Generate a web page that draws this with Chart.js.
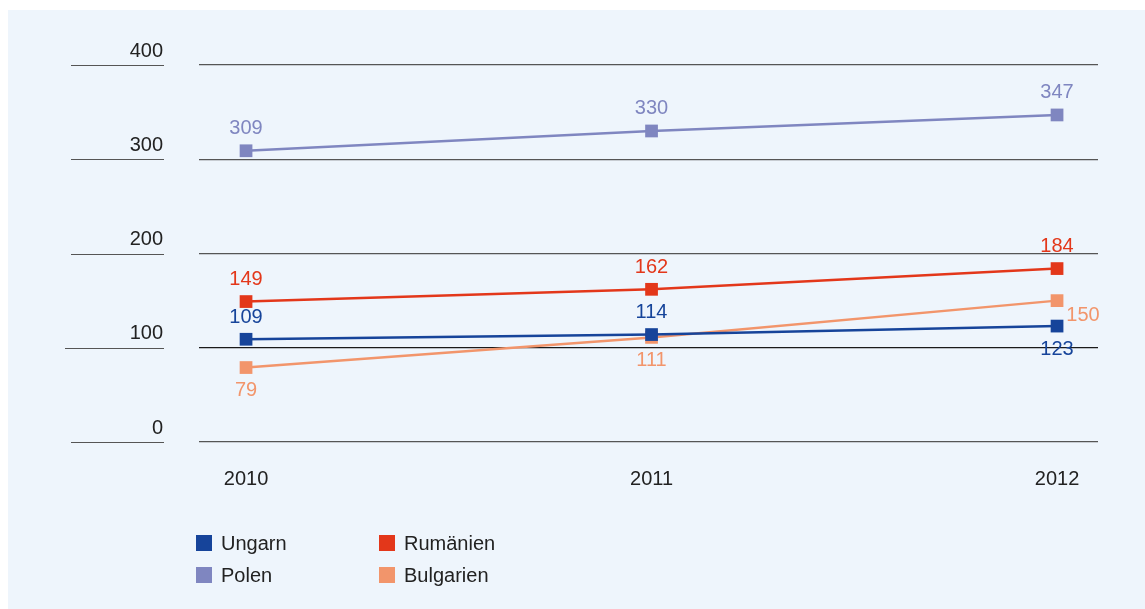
<!DOCTYPE html>
<html>
<head>
<meta charset="utf-8">
<script src="https://cdn.jsdelivr.net/npm/chart.js@4"></script>
<style>
    html, body { margin: 0; padding: 0; background: #fff; }
    #panel {
        position: absolute; left: 8px; top: 10px;
        width: 1137px; height: 599px;
        background: #eef5fc;
    }
    #chart { position: absolute; left: 0; top: 0; }
    #legende {
        position: absolute; left: 188px; top: 523px;
        display: grid; grid-template-columns: 183px 200px; row-gap: 12px;
        font-family: 'Liberation Sans', Arial, sans-serif; font-size: 20px; color: #222;
    }
    .item { display: flex; align-items: center; height: 20px; }
    .cuadro { width: 16px; height: 16px; margin-right: 9px; }
</style>
</head>
<body>
<div id="panel">
    <canvas id="chart" width="1137" height="599"></canvas>
    <div id="legende"></div>
</div>
<script>
// Datos
const jahre = [2010, 2011, 2012];
const ungarn = [109, 114, 123];
const rumaenien = [149, 162, 184];
const polen = [309, 330, 347];
const bulgarien = [79, 111, 150];
const yTicks = [0, 100, 200, 300, 400];

const FUENTE = "'Liberation Sans', Arial, sans-serif";

function puntos(valores) {
    return jahre.map((j, i) => ({ x: j, y: valores[i] }));
}

function serie(label, valores, color, posEtiquetas) {
    return {
        label: label,
        data: puntos(valores),
        borderColor: color,
        backgroundColor: color,
        borderWidth: 2.5,
        pointStyle: 'rect',
        pointRadius: 9,
        pointHoverRadius: 9,
        pointBorderWidth: 0,
        tension: 0,
        posEtiquetas: posEtiquetas
    };
}

const datasets = [
    serie('Ungarn', ungarn, '#16449a', ['above', 'above', 'below']),
    serie('Rumänien', rumaenien, '#e3371a', ['above', 'above', 'above']),
    serie('Polen', polen, '#7f86c0', ['above', 'above', 'above']),
    serie('Bulgarien', bulgarien, '#f2956b', ['below', 'below', 'right'])
];

// Etiquetas de valores sobre los puntos
const etiquetasPlugin = {
    id: 'etiquetas',
    afterDatasetsDraw(chart) {
        const ctx = chart.ctx;
        ctx.save();
        ctx.font = '20px ' + FUENTE;
        ctx.textAlign = 'center';
        ctx.textBaseline = 'middle';
        chart.data.datasets.forEach((ds, i) => {
            const meta = chart.getDatasetMeta(i);
            ctx.fillStyle = ds.borderColor;
            meta.data.forEach((p, j) => {
                const pos = ds.posEtiquetas[j];
                let dx = 0, dy = -22;
                if (pos === 'below') dy = 23;
                if (pos === 'right') { dx = 26; dy = 15; }
                ctx.fillText(String(ds.data[j].y), p.x + dx, p.y + dy);
            });
        });
        ctx.restore();
    }
};

// Pequeñas líneas bajo las etiquetas del eje Y
const marcasPlugin = {
    id: 'marcas',
    beforeDatasetsDraw(chart) {
        const ctx = chart.ctx;
        const y = chart.scales.y;
        ctx.save();
        ctx.strokeStyle = '#555';
        ctx.lineWidth = 1.2;
        y.ticks.forEach(t => {
            const py = Math.round(y.getPixelForValue(t.value)) + 0.5;
            ctx.beginPath();
            ctx.moveTo(t.value === 100 ? 57 : 63, py);
            ctx.lineTo(156, py);
            ctx.stroke();
        });
        ctx.restore();
    }
};

new Chart(document.getElementById('chart'), {
    type: 'line',
    data: { datasets: datasets },
    plugins: [etiquetasPlugin, marcasPlugin],
    options: {
        responsive: false,
        animation: false,
        layout: { padding: { left: 0, right: 47, top: 55, bottom: 0 } },
        plugins: { legend: { display: false }, tooltip: { enabled: false } },
        scales: {
            x: {
                type: 'linear',
                min: 2009.884,
                max: 2012.101,
                afterFit: s => { s.height = 599 - 55 - 377; },
                afterBuildTicks: s => { s.ticks = jahre.map(v => ({ value: v })); },
                grid: { display: false, drawTicks: false },
                border: { display: false },
                ticks: {
                    padding: 25,
                    color: '#222',
                    font: { family: FUENTE, size: 20 },
                    callback: v => String(v)
                }
            },
            y: {
                min: 0,
                max: 400,
                afterFit: s => { s.width = 191; },
                afterBuildTicks: s => { s.ticks = yTicks.map(v => ({ value: v })); },
                grid: {
                    drawTicks: false,
                    color: ctx => ctx.tick && ctx.tick.value === 100 ? '#1a1a1a' : '#555',
                    lineWidth: 1.2
                },
                border: { display: false },
                ticks: {
                    padding: 36,
                    labelOffset: -14,
                    color: '#222',
                    font: { family: FUENTE, size: 20 }
                }
            }
        }
    }
});

// Leyenda HTML en dos columnas
const orden = [0, 1, 2, 3];
document.getElementById('legende').innerHTML = orden.map(i => {
    const ds = datasets[i];
    return `<div class="item"><span class="cuadro" style="background:${ds.borderColor}"></span>${ds.label}</div>`;
}).join('');
</script>
</body>
</html>
